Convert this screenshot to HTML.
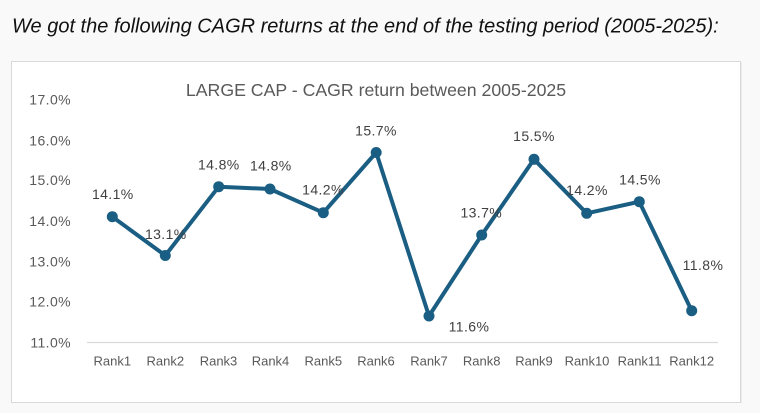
<!DOCTYPE html>
<html>
<head>
<meta charset="utf-8">
<style>
  html, body { margin: 0; padding: 0; }
  body { width: 760px; height: 413px; background: #f9f9f9; overflow: hidden; }
  svg { display: block; }
</style>
</head>
<body>
<svg width="760" height="413" viewBox="0 0 760 413" xmlns="http://www.w3.org/2000/svg">
  <rect x="0" y="0" width="760" height="413" fill="#f9f9f9"/>
  <text x="12" y="32.5" font-family="Liberation Sans, Arial, sans-serif" font-size="20" font-style="italic" fill="#111">We got the following CAGR returns at the end of the testing period (2005-2025):</text>

  <!-- chart box -->
  <rect x="11.5" y="61.5" width="729" height="341" fill="#ffffff" stroke="#d9d9d9" stroke-width="1"/>
  <line x1="741.5" y1="62" x2="741.5" y2="403" stroke="#ececec" stroke-width="1"/>

  <!-- title -->
  <text x="376" y="96" text-anchor="middle" font-family="Liberation Sans, Arial, sans-serif" font-size="17.7" fill="#595959">LARGE CAP - CAGR return between 2005-2025</text>

  <!-- y-axis labels -->
  <g font-family="Liberation Sans, Arial, sans-serif" font-size="14" fill="#595959" text-anchor="end" letter-spacing="0.4">
    <text x="71" y="104.3">17.0%</text>
    <text x="71" y="145.7">16.0%</text>
    <text x="71" y="185">15.0%</text>
    <text x="71" y="226">14.0%</text>
    <text x="71" y="266.7">13.0%</text>
    <text x="71" y="306.7">12.0%</text>
    <text x="71" y="347.3">11.0%</text>
  </g>

  <!-- x axis line -->
  <line x1="87" y1="342.5" x2="718" y2="342.5" stroke="#d9d9d9" stroke-width="1.2"/>

  <!-- x labels -->
  <g font-family="Liberation Sans, Arial, sans-serif" font-size="13" fill="#595959" text-anchor="middle">
    <text x="112.3" y="365.5">Rank1</text>
    <text x="165.3" y="365.5">Rank2</text>
    <text x="218.5" y="365.5">Rank3</text>
    <text x="270.5" y="365.5">Rank4</text>
    <text x="323.3" y="365.5">Rank5</text>
    <text x="376" y="365.5">Rank6</text>
    <text x="429" y="365.5">Rank7</text>
    <text x="481.7" y="365.5">Rank8</text>
    <text x="534" y="365.5">Rank9</text>
    <text x="587" y="365.5">Rank10</text>
    <text x="639.5" y="365.5">Rank11</text>
    <text x="691.7" y="365.5">Rank12</text>
  </g>

  <!-- series -->
  <polyline fill="none" stroke="#1b5e83" stroke-width="4" stroke-linejoin="round" stroke-linecap="round"
    points="112.3,216.7 165.3,255.5 218.7,186.7 270,189 323.3,212.7 376.2,152.5 429,316 481.7,235 534,159.3 586.7,213.3 639.3,201.7 691.7,310.7"/>
  <g fill="#1b5e83">
    <circle cx="112.3" cy="216.7" r="5.5"/>
    <circle cx="165.3" cy="255.5" r="5.5"/>
    <circle cx="218.7" cy="186.7" r="5.5"/>
    <circle cx="270" cy="189" r="5.5"/>
    <circle cx="323.3" cy="212.7" r="5.5"/>
    <circle cx="376.2" cy="152.5" r="5.5"/>
    <circle cx="429" cy="316" r="5.5"/>
    <circle cx="481.7" cy="235" r="5.5"/>
    <circle cx="534" cy="159.3" r="5.5"/>
    <circle cx="586.7" cy="213.3" r="5.5"/>
    <circle cx="639.3" cy="201.7" r="5.5"/>
    <circle cx="691.7" cy="310.7" r="5.5"/>
  </g>

  <!-- data labels -->
  <g font-family="Liberation Sans, Arial, sans-serif" font-size="14" fill="#404040" text-anchor="middle" letter-spacing="0.4">
    <text x="112.8" y="199">14.1%</text>
    <text x="165.8" y="239">13.1%</text>
    <text x="218.8" y="169.5">14.8%</text>
    <text x="270.8" y="170.7">14.8%</text>
    <text x="323" y="194.3">14.2%</text>
    <text x="376" y="135.7">15.7%</text>
    <text x="469" y="331.7">11.6%</text>
    <text x="481.3" y="217.3">13.7%</text>
    <text x="534" y="141">15.5%</text>
    <text x="587" y="195">14.2%</text>
    <text x="640" y="184.3">14.5%</text>
    <text x="703" y="270">11.8%</text>
  </g>
</svg>
</body>
</html>
